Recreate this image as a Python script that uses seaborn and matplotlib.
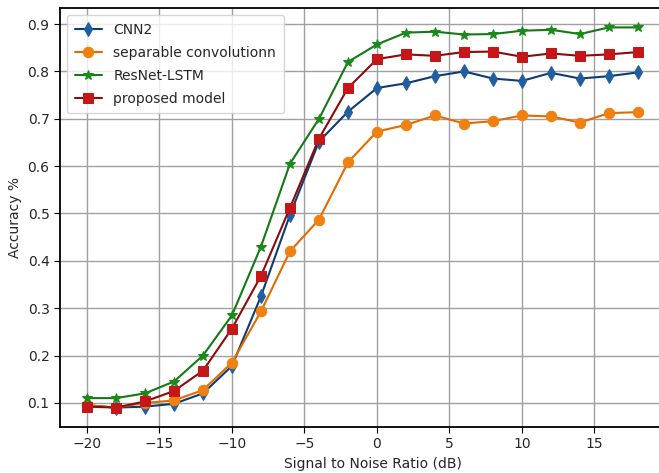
import numpy as np
import pandas as pd
import matplotlib
matplotlib.use("Agg")
import matplotlib.pyplot as plt
import seaborn as sns

snr = [-20, -18, -16, -14, -12, -10, -8, -6, -4, -2, 0, 2, 4, 6, 8, 10, 12, 14, 16, 18]

cnn2 = [0.095, 0.090, 0.092, 0.098, 0.120, 0.178, 0.325, 0.497, 0.652, 0.715,
        0.765, 0.775, 0.790, 0.800, 0.785, 0.780, 0.797, 0.785, 0.790, 0.798]
sep_conv = [0.095, 0.090, 0.100, 0.105, 0.127, 0.185, 0.293, 0.420, 0.487, 0.608,
            0.673, 0.687, 0.707, 0.690, 0.695, 0.707, 0.705, 0.692, 0.712, 0.714]
resnet_lstm = [0.110, 0.110, 0.120, 0.145, 0.200, 0.285, 0.430, 0.605, 0.700, 0.820,
               0.857, 0.882, 0.884, 0.878, 0.879, 0.886, 0.888, 0.879, 0.893, 0.893]
proposed = [0.092, 0.090, 0.103, 0.125, 0.168, 0.257, 0.368, 0.512, 0.658, 0.765,
            0.826, 0.836, 0.833, 0.841, 0.842, 0.831, 0.838, 0.833, 0.836, 0.841]

labels = ["CNN2", "separable convolutionn", "ResNet-LSTM", "proposed model"]
series = [cnn2, sep_conv, resnet_lstm, proposed]

# line colour, marker face colour, marker, marker size
styles = [
    ("#0d3b73", "#1f5fa0", "d", 7.5),
    ("#e06c00", "#f08010", "o", 7.5),
    ("#137a13", "#1a8a1a", "*", 7.5),
    ("#8b0a0a", "#c41818", "s", 6.5),
]

df = pd.DataFrame({
    "snr": snr * len(series),
    "acc": np.concatenate(series),
    "model": np.repeat(labels, len(snr)),
})

sns.set_style("ticks")
plt.rcParams["font.family"] = ["DejaVu Sans"]

fig = plt.figure(figsize=(6.59, 4.73), dpi=100)
# the plot area runs past the right edge of the figure
ax = fig.add_axes([60 / 659, 46 / 473, 625 / 659, 419 / 473])

for (lc, fc, mk, ms), name in zip(styles, labels):
    sns.lineplot(data=df[df["model"] == name], x="snr", y="acc", ax=ax,
                 color=lc, marker=mk, markersize=ms, markerfacecolor=fc,
                 markeredgecolor=fc, linewidth=1.5, label=name)

ax.set_xlim(-21.86, -21.86 + 625 / 14.5)
ax.set_ylim(0.049, 0.934)
ax.grid(True, color="#a0a0a0", linewidth=1.0)
ax.set_xticks([-20, -15, -10, -5, 0, 5, 10, 15])
ax.set_yticks([0.1, 0.2, 0.3, 0.4, 0.5, 0.6, 0.7, 0.8, 0.9])
ax.set_xlabel("Signal to Noise Ratio (dB)", fontsize=10)
ax.set_ylabel("Accuracy %", fontsize=10)
ax.tick_params(labelsize=10, color="black", direction="out", length=4)
for sp in ax.spines.values():
    sp.set_color("black")
    sp.set_linewidth(1.3)
ax.spines["right"].set_visible(False)
ax.legend(loc="upper left", fontsize=10, frameon=True, labelspacing=0.65,
          borderpad=0.55)

fig.savefig("out.png", dpi=100)
